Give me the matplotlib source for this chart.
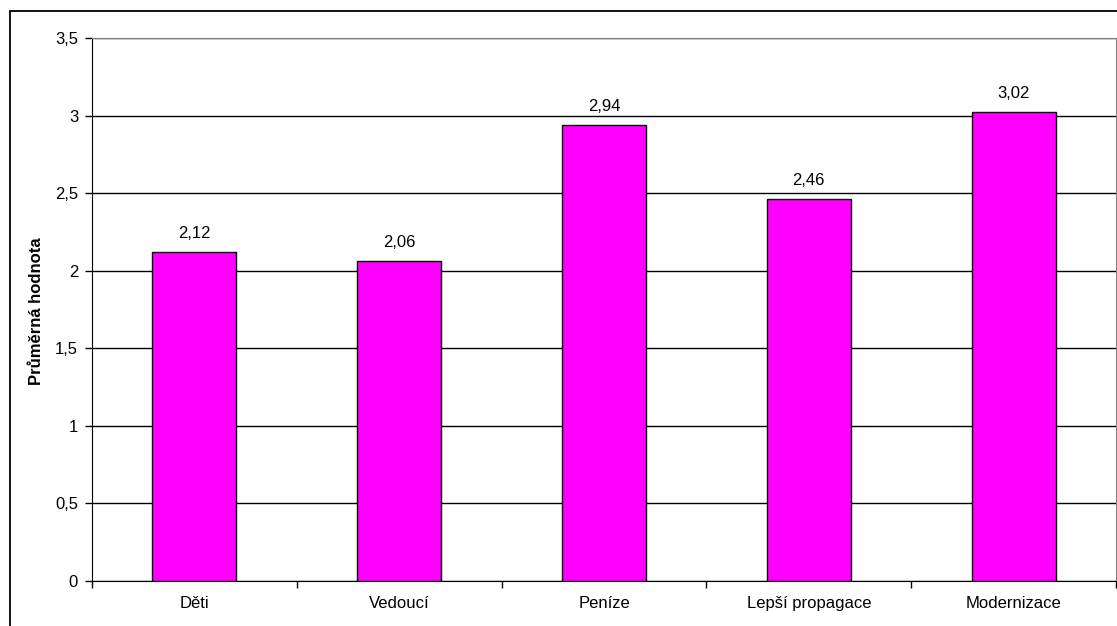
import matplotlib
matplotlib.use("Agg")
import matplotlib.pyplot as plt
from matplotlib.patches import Rectangle
from matplotlib.ticker import FuncFormatter

categories = ["Děti", "Vedoucí", "Peníze", "Lepší propagace", "Modernizace"]
values = [2.12, 2.06, 2.94, 2.46, 3.02]
y_ticks = [0, 0.5, 1, 1.5, 2, 2.5, 3, 3.5]

plt.rcParams["font.family"] = ["Liberation Sans", "DejaVu Sans"]
FS = 12

W, H = 1117, 626
fig = plt.figure(figsize=(W / 100, H / 100), dpi=100)
ax = fig.add_axes([92 / W, 1 - 581 / H, (1116 - 92) / W, (581 - 38) / H])

x = list(range(len(categories)))
bars = ax.bar(x, values, width=0.41, color="#ff00ff", edgecolor="black", linewidth=1, zorder=3)

ax.set_xlim(-0.5, len(categories) - 0.5)
ax.set_ylim(0, 3.5)
ax.set_yticks(y_ticks)
ax.yaxis.set_major_formatter(FuncFormatter(lambda v, p: ("%g" % v).replace(".", ",")))
ax.grid(axis="y", color="black", linewidth=1, zorder=0)

ax.set_xticks(x)
ax.set_xticklabels(categories, fontsize=FS)
ax.tick_params(axis="x", length=0, pad=11)
ax.set_xticks([i - 0.5 for i in range(len(categories) + 1)], minor=True)
ax.tick_params(axis="x", which="minor", length=5, width=1, direction="out")
ax.tick_params(axis="y", length=5, width=1, direction="out", labelsize=FS, pad=5)

for side in ["top", "right"]:
    ax.spines[side].set_color("#808080")
for side in ["left", "bottom"]:
    ax.spines[side].set_color("black")

for b, v in zip(bars, values):
    ax.annotate(("%.2f" % v).replace(".", ","), (b.get_x() + b.get_width() / 2, v),
                xytext=(0, 8), textcoords="offset points", ha="center", va="bottom", fontsize=FS)

fig.text(37 / W, 1 - 311 / H, "Průměrná hodnota", rotation=90, fontsize=FS,
         fontweight="bold", ha="center", va="center")

fig.patches.append(Rectangle((10 / W, -0.1), 1.2, 1 - 11 / H + 0.1, transform=fig.transFigure,
                             fill=False, edgecolor="black", linewidth=1.3))

fig.savefig("out.png", dpi=100)
